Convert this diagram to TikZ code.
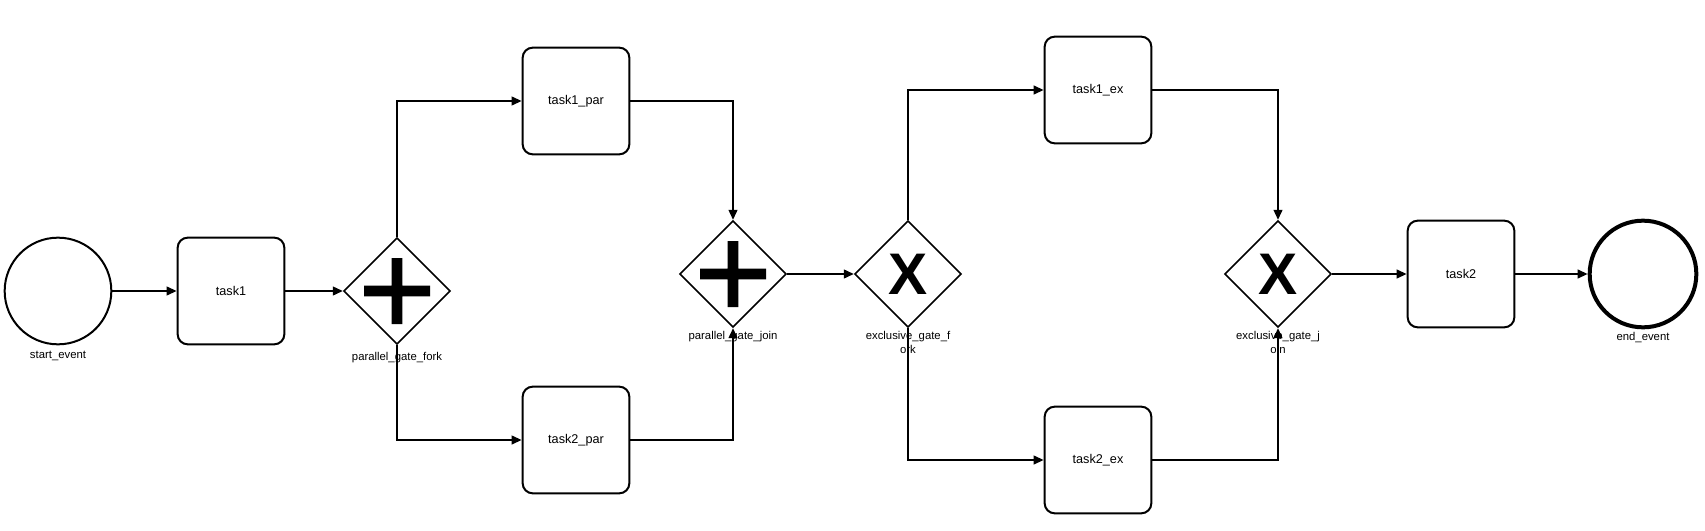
\documentclass[tikz,border=0pt]{standalone}
\usepackage{fontspec}
\setmainfont{Liberation Sans}
\usepackage{tikz}
\usetikzlibrary{positioning,arrows.meta,shapes.geometric}

\begin{document}
\begin{tikzpicture}[x=0.75pt,y=-0.75pt,
      event/.style={circle,draw,line width=1.5pt,minimum size=80pt,inner sep=0pt},
      endevent/.style={event,line width=3pt},
      task/.style={rectangle,draw,line width=1.5pt,rounded corners=7.5pt,minimum size=80pt,inner sep=0pt,font=\fontsize{9.5}{11}\selectfont},
      gate/.style={diamond,draw,line width=1.2pt,minimum size=80pt,inner sep=0pt},
      pgate/.style={gate,path picture={
          \fill[shift={(path picture bounding box.center)}]
            (-24.75pt,-4.1pt) rectangle (24.75pt,4.1pt)
            (-4.1pt,-24.75pt) rectangle (4.1pt,24.75pt);}},
      xgate/.style={gate,font=\fontsize{44}{44}\selectfont\bfseries},
      lbl/.style={font=\fontsize{8.5}{11}\selectfont,align=center,inner sep=1pt},
      flow/.style={-{Triangle[length=7.5pt,width=6.5pt]},line width=1.5pt}]
    \useasboundingbox (0,0) rectangle (1705,531);
    % events and tasks
    \node[event] (start) at (58,291) {};
    \node[task] (task1) at (231,291) {task1};
    \node[task] (t1par) at (576,101) {task1\_par};
    \node[task] (t2par) at (576,440) {task2\_par};
    \node[task] (t1ex) at (1098,90) {task1\_ex};
    \node[task] (t2ex) at (1098,460) {task2\_ex};
    \node[task] (task2) at (1461,274) {task2};
    \node[endevent] (end) at (1643,274) {};
    % gateways
    \node[pgate] (pfork) at (397,291) {};
    \node[pgate] (pjoin) at (733,274) {};
    \node[xgate] (xfork) at (908,274) {X};
    \node[xgate] (xjoin) at (1278,274) {X};
    % labels
    \node[lbl,below=3pt of start] (startlbl) {start\_event};
    \node[lbl,below=4pt of pfork] (pforklbl) {parallel\_gate\_fork};
    \node[lbl,below=1pt of pjoin] (pjoinlbl) {parallel\_gate\_join};
    \node[lbl,below=1pt of xfork] (xforklbl) {exclusive\_gate\_f\\ork};
    \node[lbl,below=1pt of xjoin] (xjoinlbl) {exclusive\_gate\_j\\oin};
    \node[lbl,below=1pt of end] (endlbl) {end\_event};
    % sequence flows
    \draw[flow] (start) -- (task1);
    \draw[flow] (task1) -- (pfork);
    \draw[flow] (pfork.north) |- (t1par);
    \draw[flow] (pfork.south) |- (t2par);
    \draw[flow] (t1par) -| (pjoin.north);
    \draw[flow] (t2par) -| (pjoin.south);
    \draw[flow] (pjoin) -- (xfork);
    \draw[flow] (xfork.north) |- (t1ex);
    \draw[flow] (xfork.south) |- (t2ex);
    \draw[flow] (t1ex) -| (xjoin.north);
    \draw[flow] (t2ex) -| (xjoin.south);
    \draw[flow] (xjoin) -- (task2);
    \draw[flow] (task2) -- (end);
\end{tikzpicture}
\end{document}
